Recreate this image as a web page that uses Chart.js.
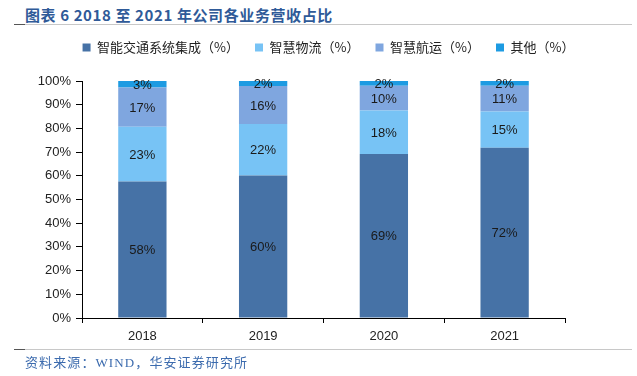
<!DOCTYPE html>
<html>
<head>
<meta charset="utf-8">
<script src="https://cdn.jsdelivr.net/npm/chart.js@4.4.1/dist/chart.umd.min.js"></script>
<style>
  html, body { margin: 0; padding: 0; background: #fff; }
  #wrap { position: relative; width: 637px; height: 376px; overflow: hidden; }
  #title {
    position: absolute; left: 25px; top: 4px;
    font: bold 15px "Noto Sans CJK SC", sans-serif; color: #2F5A98;
    letter-spacing: 0.6px; white-space: nowrap;
  }
  .rule { position: absolute; left: 14px; width: 618px; height: 1px; background: #c8c8c8; }
  .rule i { position: absolute; left: 0; top: 0; width: 11px; height: 1px; background: #555; }
  #source {
    position: absolute; left: 25px; top: 352px;
    font: 13px "Liberation Serif", "Noto Sans CJK SC", serif; color: #3C6BAE;
    letter-spacing: 1.1px; white-space: nowrap;
  }
  canvas { position: absolute; left: 0; top: 0; }
</style>
</head>
<body>
<div id="wrap">
  <div id="title">图表 6 2018 至 2021 年公司各业务营收占比</div>
  <div class="rule" style="top:24px"><i></i></div>
  <canvas id="chart" width="637" height="376"></canvas>
  <div class="rule" style="top:349px"><i></i></div>
  <div id="source">资料来源：WIND，华安证券研究所</div>
</div>
<script>
// revenue share by business line
const years = ["2018", "2019", "2020", "2021"];
const systemIntegration = [57.6, 60.1, 69.2, 71.8]; // 智能交通系统集成
const smartLogistics = [23.1, 21.8, 18.4, 15.3];    // 智慧物流
const smartShipping = [16.6, 16.0, 10.4, 10.9];     // 智慧航运
const others = [2.7, 2.1, 2.0, 2.0];                 // 其他
const yTicks = [0, 10, 20, 30, 40, 50, 60, 70, 80, 90, 100];

// percentage text in the middle of each stacked segment
const segmentLabels = {
  id: "segmentLabels",
  afterDatasetsDraw(chart) {
    const { ctx } = chart;
    ctx.save();
    ctx.font = "13px Arial, 'Liberation Sans', sans-serif";
    ctx.fillStyle = "#1a1a1a";
    ctx.textAlign = "center";
    ctx.textBaseline = "middle";
    chart.data.datasets.forEach((ds, i) => {
      const meta = chart.getDatasetMeta(i);
      meta.data.forEach((bar, j) => {
        const mid = (bar.y + bar.base) / 2;
        ctx.fillText(Math.round(ds.data[j]) + "%", bar.x, mid + 1);
      });
    });
    ctx.restore();
  }
};

// extra gap under the legend, and centre it on the whole page
const legendPlacement = {
  id: "legendPlacement",
  beforeInit(chart) {
    const fit = chart.legend.fit;
    chart.legend.fit = function () {
      fit.bind(chart.legend)();
      this.height += 17;
    };
  },
  afterLayout(chart) {
    const lg = chart.legend;
    lg.left += 46;
    lg.right += 46;
    lg.adjustHitBoxes();
  }
};

const ctx = document.getElementById("chart");

new Chart(ctx, {
  type: "bar",
  data: {
    labels: years,
    datasets: [
      { label: "智能交通系统集成（%）", data: systemIntegration, backgroundColor: "#4672A6" },
      { label: "智慧物流（%）", data: smartLogistics, backgroundColor: "#77C3F5" },
      { label: "智慧航运（%）", data: smartShipping, backgroundColor: "#7FA6DF" },
      { label: "其他（%）", data: others, backgroundColor: "#1D9BE2" }
    ]
  },
  options: {
    responsive: false,
    animation: false,
    devicePixelRatio: 1,
    layout: { padding: { top: 25, right: 72, bottom: 28, left: 0 } },
    datasets: { bar: { barPercentage: 0.4, categoryPercentage: 1 } },
    plugins: {
      legend: {
        position: "top",
        labels: {
          boxWidth: 8,
          boxHeight: 8,
          padding: 16,
          color: "#222",
          font: { size: 13, family: "'Noto Sans CJK SC', sans-serif" }
        }
      },
      tooltip: { enabled: false }
    },
    scales: {
      x: {
        stacked: true,
        offset: true,
        afterFit: (axis) => { axis.height = 30; },
        grid: {
          offset: true,
          drawOnChartArea: false,
          tickLength: 5,
          color: "#000"
        },
        border: { color: "#000", width: 1 },
        ticks: {
          color: "#222",
          padding: 6,
          font: { size: 13, family: "Arial, 'Liberation Sans', sans-serif" }
        }
      },
      y: {
        stacked: true,
        min: 0,
        max: 100,
        afterFit: (axis) => { axis.width = 82; },
        afterBuildTicks: (axis) => { axis.ticks = yTicks.map((v) => ({ value: v })); },
        grid: {
          drawOnChartArea: false,
          tickLength: 6,
          color: "#000"
        },
        border: { color: "#000", width: 1 },
        ticks: {
          color: "#222",
          padding: 5,
          callback: (v) => v + "%",
          font: { size: 13, family: "Arial, 'Liberation Sans', sans-serif" }
        }
      }
    }
  },
  plugins: [segmentLabels, legendPlacement]
});
</script>
</body>
</html>
